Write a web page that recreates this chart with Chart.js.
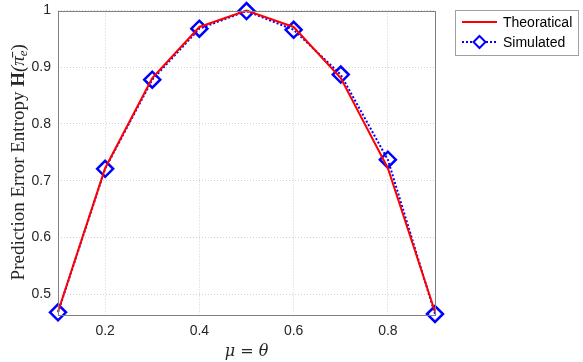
<!DOCTYPE html>
<html>
<head>
<meta charset="utf-8">
<script src="https://cdn.jsdelivr.net/npm/chart.js@4/dist/chart.umd.min.js"></script>
<style>
  body { margin: 0; background: #fff; }
  #wrap { width: 583px; height: 362px; }
</style>
</head>
<body>
<div id="wrap"><canvas id="entropyChart" width="583" height="362"></canvas></div>
<script>
const muValues = [0.1, 0.2, 0.3, 0.4, 0.5, 0.6, 0.7, 0.8, 0.9];
const theoretical = [0.469, 0.722, 0.881, 0.971, 1.0, 0.971, 0.881, 0.722, 0.469];
const simulated = [0.468, 0.721, 0.878, 0.968, 0.999, 0.966, 0.887, 0.737, 0.465];
const xTicks = [0.2, 0.4, 0.6, 0.8];
const yTicks = [0.5, 0.6, 0.7, 0.8, 0.9, 1];
const seriesNames = ['Theoratical', 'Simulated'];

const tickFont = { family: 'Liberation Sans, Arial, sans-serif', size: 14 };
const axisGray = '#262626';

// box around the plot, axis titles and the legend (MATLAB look)
const decorPlugin = {
    id: 'decor',
    afterDraw(chart) {
        const ctx = chart.ctx;
        const a = chart.chartArea;
        ctx.save();
        ctx.strokeStyle = '#7f7f7f';
        ctx.lineWidth = 1;
        ctx.strokeRect(Math.round(a.left) + 0.5, Math.round(a.top) + 0.5,
            Math.round(a.right - a.left), Math.round(a.bottom - a.top));

        // x title
        ctx.fillStyle = axisGray;
        ctx.font = 'italic 16px "DejaVu Serif", "Liberation Serif", serif';
        ctx.textAlign = 'center';
        ctx.textBaseline = 'alphabetic';
        ctx.fillText('μ = θ', (a.left + a.right) / 2, 356);

        // y title, rotated
        ctx.save();
        ctx.translate(19, (a.top + a.bottom) / 2);
        ctx.rotate(-Math.PI / 2);
        ctx.textBaseline = 'middle';
        const parts = [
            { t: 'Prediction Error Entropy ', f: '19px "Liberation Serif", serif' },
            { t: 'H', f: 'bold 19px "Liberation Serif", serif' },
            { t: '(π̄', f: 'italic 19px "Liberation Serif", serif' },
            { t: 'e', f: 'italic 13px "Liberation Serif", serif', dy: 5 },
            { t: ')', f: '19px "Liberation Serif", serif' }
        ];
        let total = 0;
        parts.forEach(p => { ctx.font = p.f; p.w = ctx.measureText(p.t).width; total += p.w; });
        let x = -total / 2;
        ctx.textAlign = 'left';
        parts.forEach(p => {
            ctx.font = p.f;
            ctx.fillText(p.t, x, p.dy || 0);
            x += p.w;
        });
        ctx.restore();

        // legend
        const lx = 455, ly = 10, lw = 123, lh = 45;
        ctx.fillStyle = '#fff';
        ctx.fillRect(lx, ly, lw, lh);
        ctx.strokeStyle = '#a0a0a0';
        ctx.strokeRect(lx + 0.5, ly + 0.5, lw, lh);
        ctx.lineWidth = 2;
        ctx.strokeStyle = '#ff0000';
        ctx.beginPath();
        ctx.moveTo(462, 22);
        ctx.lineTo(497, 22);
        ctx.stroke();
        ctx.strokeStyle = '#0000ff';
        ctx.setLineDash([2, 2]);
        ctx.beginPath();
        ctx.moveTo(462, 42);
        ctx.lineTo(497, 42);
        ctx.stroke();
        ctx.setLineDash([]);
        ctx.beginPath();
        ctx.moveTo(479.5, 36);
        ctx.lineTo(485.5, 42);
        ctx.lineTo(479.5, 48);
        ctx.lineTo(473.5, 42);
        ctx.closePath();
        ctx.fillStyle = '#fff';
        ctx.fill();
        ctx.stroke();
        ctx.fillStyle = '#000';
        ctx.font = '14px "Liberation Sans", Arial, sans-serif';
        ctx.textAlign = 'left';
        ctx.textBaseline = 'middle';
        ctx.fillText(seriesNames[0], 503, 23);
        ctx.fillText(seriesNames[1], 503, 43);
        ctx.restore();
    }
};

const ctx = document.getElementById('entropyChart').getContext('2d');
new Chart(ctx, {
    type: 'line',
    data: {
        datasets: [{
            label: seriesNames[0],
            data: muValues.map((m, i) => ({ x: m, y: theoretical[i] })),
            borderColor: '#ff0000',
            borderWidth: 2,
            pointRadius: 0,
            tension: 0
        }, {
            label: seriesNames[1],
            data: muValues.map((m, i) => ({ x: m, y: simulated[i] })),
            borderColor: '#0000ff',
            borderWidth: 2,
            borderDash: [2, 2],
            pointStyle: 'rectRot',
            pointRadius: 8,
            pointBorderWidth: 2.5,
            pointBorderColor: '#0000ff',
            pointBackgroundColor: 'rgba(255,255,255,0)',
            tension: 0
        }]
    },
    options: {
        responsive: false,
        animation: false,
        clip: false,
        layout: { padding: { left: 0, top: 10, right: 148, bottom: 0 } },
        plugins: { legend: { display: false }, tooltip: { enabled: false } },
        scales: {
            x: {
                type: 'linear',
                min: 0.1,
                max: 0.9,
                afterBuildTicks: axis => { axis.ticks = xTicks.map(v => ({ value: v })); },
                afterFit: axis => { axis.height = 48; axis.paddingLeft = 0; axis.paddingRight = 0; },
                border: { display: false, dash: [1, 2] },
                grid: { color: '#d0d0d0', drawTicks: false },
                ticks: { font: tickFont, color: axisGray, padding: 9, callback: v => v.toString() }
            },
            y: {
                min: 0.465,
                max: 1,
                afterBuildTicks: axis => { axis.ticks = yTicks.map(v => ({ value: v })); },
                afterFit: axis => { axis.width = 58; axis.paddingTop = 0; axis.paddingBottom = 0; },
                border: { display: false, dash: [1, 2] },
                grid: { color: '#d0d0d0', drawTicks: false },
                ticks: { font: tickFont, color: axisGray, padding: 7, callback: v => v.toString() }
            }
        }
    },
    plugins: [decorPlugin]
});
</script>
</body>
</html>
